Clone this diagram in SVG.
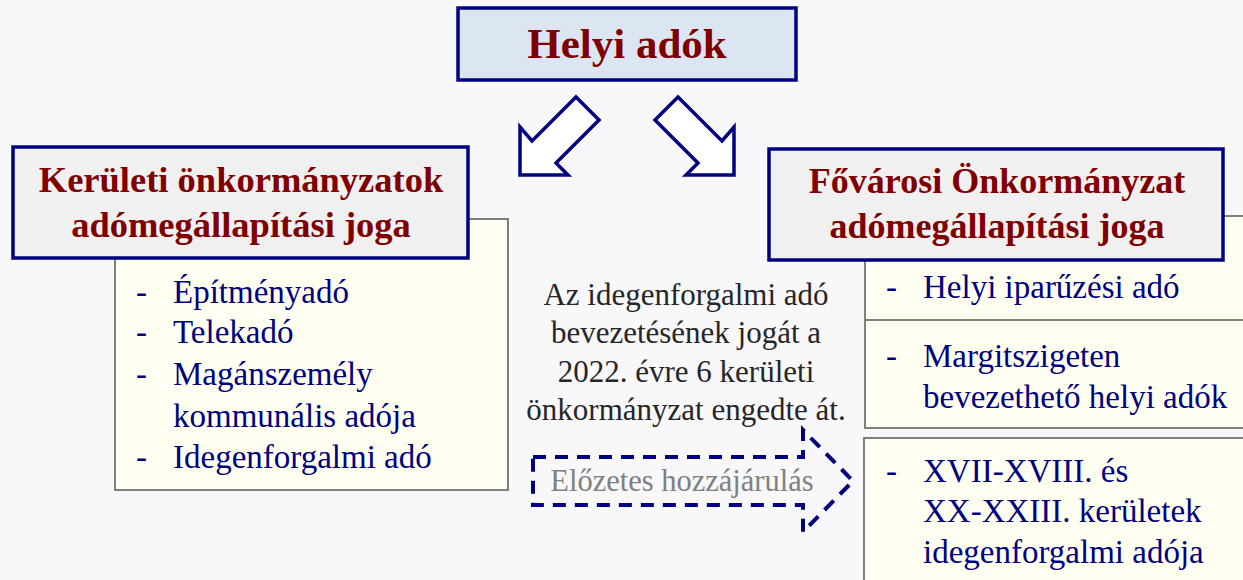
<svg xmlns="http://www.w3.org/2000/svg" width="1243" height="580" viewBox="0 0 1243 580">
<style>
.hdr{fill:#f0f0f0;stroke:#000080;stroke-width:3.5}
.cnt{fill:#fefff0;stroke:#7f7f7f;stroke-width:2}
.ht{font-family:"Liberation Serif",serif;font-weight:bold;fill:#800000;text-anchor:middle}
.li{font-family:"Liberation Serif",serif;font-size:33px;fill:#000080}
.mid{font-family:"Liberation Serif",serif;font-size:31px;fill:#262626;text-anchor:middle}
.arr{fill:#ffffff;stroke:#000080;stroke-width:3.5;stroke-linejoin:miter}
</style>
<rect width="1243" height="580" fill="#f8f8fb"/>
<g id="top">
<rect x="458" y="8" width="338" height="72" fill="#dce6f2" stroke="#000080" stroke-width="3.5"/>
<text class="ht" x="627" y="58" font-size="43">Helyi adók</text>
</g>
<g id="connectors">
<polygon class="arr" points="576,97 599,120 556,163 568,175 520,175 520,127 532,141"/>
<polygon class="arr" points="678,97 655,120 698,163 686,175 734,175 734,127 722,141"/>
<polygon points="533,457 803,457 803,430 853,481 803,532 803,505 533,505" fill="none" stroke="#000080" stroke-width="4" stroke-dasharray="13,9"/>
</g>
<g id="left">
<rect class="cnt" x="115" y="219" width="393" height="271"/>
<rect class="hdr" x="13" y="147" width="455" height="111"/>
<text class="ht" x="241" y="192" font-size="36.5">Kerületi önkormányzatok</text>
<text class="ht" x="241" y="237" font-size="36.5">adómegállapítási joga</text>
<text class="li" x="136" y="303">-</text><text class="li" x="173" y="303">Építményadó</text>
<text class="li" x="136" y="343">-</text><text class="li" x="173" y="343">Telekadó</text>
<text class="li" x="136" y="385">-</text><text class="li" x="173" y="385">Magánszemély</text>
<text class="li" x="173" y="427">kommunális adója</text>
<text class="li" x="136" y="468">-</text><text class="li" x="173" y="468">Idegenforgalmi adó</text>
</g>
<g id="middle">
<text class="mid" x="686" y="305">Az idegenforgalmi adó</text>
<text class="mid" x="686" y="343">bevezetésének jogát a</text>
<text class="mid" x="686" y="382">2022. évre 6 kerületi</text>
<text class="mid" x="686" y="420">önkormányzat engedte át.</text>
<text x="682" y="491" font-family="Liberation Serif,serif" font-size="30.5" fill="#808080" text-anchor="middle">Előzetes hozzájárulás</text>
</g>
<g id="right">
<rect class="cnt" x="865" y="216" width="390" height="104"/>
<rect class="cnt" x="865" y="320" width="390" height="108"/>
<rect class="cnt" x="864" y="438" width="390" height="150"/>
<rect class="hdr" x="769" y="149" width="454" height="111"/>
<text class="ht" x="997" y="193" font-size="36">Fővárosi Önkormányzat</text>
<text class="ht" x="997" y="238" font-size="36">adómegállapítási joga</text>
<text class="li" x="886" y="298">-</text><text class="li" x="923" y="298">Helyi iparűzési adó</text>
<text class="li" x="886" y="367">-</text><text class="li" x="923" y="367">Margitszigeten</text>
<text class="li" x="923" y="408">bevezethető helyi adók</text>
<text class="li" x="886" y="482">-</text><text class="li" x="923" y="482">XVII-XVIII. és</text>
<text class="li" x="923" y="522">XX-XXIII. kerületek</text>
<text class="li" x="923" y="563">idegenforgalmi adója</text>
</g>
</svg>
